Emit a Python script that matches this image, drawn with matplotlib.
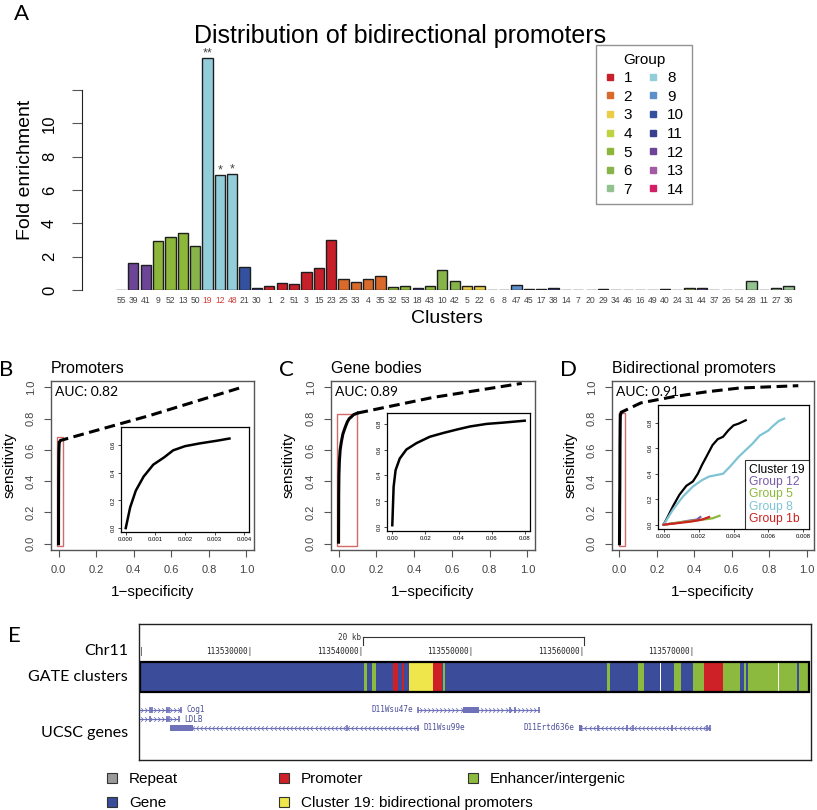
import matplotlib
matplotlib.use('Agg')
import matplotlib.pyplot as plt
import matplotlib.transforms as mtransforms
from matplotlib.patches import Rectangle, Patch
from matplotlib.lines import Line2D
from matplotlib.path import Path

plt.rcParams['font.family'] = ['Liberation Sans', 'DejaVu Sans']

# ---------------- data ----------------
# panel A
clusters = ['55', '39', '41', '9', '52', '13', '50', '19', '12', '48', '21', '30', '1', '2', '51',
            '3', '15', '23', '25', '33', '4', '35', '32', '53', '18', '43', '10', '42', '5', '22',
            '6', '8', '47', '45', '17', '38', '14', '7', '20', '29', '34', '46', '16', '49', '40',
            '24', '31', '44', '37', '26', '54', '28', '11', '27', '36']
fold = [0.02, 1.6, 1.48, 2.96, 3.2, 3.44, 2.64, 13.9, 6.88, 6.94, 1.4, 0.12, 0.22, 0.42, 0.36,
        1.08, 1.32, 3.0, 0.64, 0.46, 0.68, 0.82, 0.18, 0.24, 0.12, 0.26, 1.18, 0.56, 0.26, 0.26,
        0.0, 0.0, 0.3, 0.06, 0.08, 0.1, 0.0, 0.0, 0.0, 0.06, 0.0, 0.0, 0.0, 0.0, 0.06,
        0.0, 0.1, 0.14, 0.0, 0.0, 0.0, 0.52, 0.0, 0.12, 0.24]
bar_group = [12, 12, 12, 5, 5, 5, 6, 8, 8, 8, 10, 11, 1, 1, 1,
             1, 1, 1, 2, 2, 2, 2, 5, 5, 11, 5, 6, 6, 3, 3,
             3, 9, 9, 11, 11, 11, 11, 11, 11, 11, 12, 12, 12, 12, 11,
             11, 6, 12, 13, 13, 14, 7, 7, 7, 7]
stars = {'19': '**', '12': '*', '48': '*'}
group_names = [str(i) for i in range(1, 15)]
group_colors = ['#C8202A', '#D96A2B', '#EACD45', '#BFD23F', '#8CB73A', '#86B448', '#93C28F',
                '#92CDDA', '#5E8FCB', '#34519F', '#3A3E8E', '#6D4598', '#A55BA4', '#D21F66']

# panels B-D : ROC curves (inset = zoomed solid part, dash = remainder)
b_fpr = [0, 0.00015, 0.00034, 0.0006, 0.00093, 0.0013, 0.0016, 0.002, 0.0025, 0.0031, 0.0035]
b_tpr = [0, 0.15, 0.27, 0.37, 0.457, 0.51, 0.56, 0.59, 0.61, 0.63, 0.645]
b_dash_fpr = [0.0035, 0.01, 0.487, 0.965]
b_dash_tpr = [0.645, 0.66, 0.82, 0.996]

c_fpr = [0, 0.0008, 0.002, 0.0045, 0.0085, 0.0146, 0.0227, 0.031, 0.039, 0.047, 0.057, 0.067, 0.08, 0.1]
c_tpr = [0.01, 0.31, 0.44, 0.53, 0.6, 0.65, 0.70, 0.73, 0.756, 0.78, 0.80, 0.81, 0.825, 0.835]
c_dash_fpr = [0.1, 0.12, 0.5, 0.97]
c_dash_tpr = [0.835, 0.84, 0.935, 1.025]

d19_fpr = [0, 0.00025, 0.00053, 0.0009, 0.0013, 0.00168, 0.00196, 0.0022, 0.0025, 0.0028,
           0.0031, 0.0034, 0.0037, 0.004, 0.0043, 0.0047]
d19_tpr = [0, 0.065, 0.143, 0.234, 0.305, 0.34, 0.40, 0.47, 0.547, 0.625,
           0.672, 0.69, 0.74, 0.78, 0.794, 0.82]
d8_fpr = [0, 0.00053, 0.0011, 0.00168, 0.0022, 0.0026, 0.0034, 0.0038, 0.0043, 0.0051,
          0.0055, 0.006, 0.0062, 0.0066, 0.0069]
d8_tpr = [0, 0.117, 0.22, 0.30, 0.35, 0.378, 0.40, 0.456, 0.534, 0.638,
          0.70, 0.74, 0.768, 0.815, 0.833]
d12_fpr = [0, 0.0008, 0.0014, 0.0019, 0.0021]
d12_tpr = [0, 0.015, 0.03, 0.04, 0.06]
d5_fpr = [0, 0.001, 0.002, 0.0028, 0.0032]
d5_tpr = [0, 0.02, 0.035, 0.05, 0.07]
d1b_fpr = [0, 0.0008, 0.0016, 0.0022, 0.0026]
d1b_tpr = [0, 0.012, 0.025, 0.04, 0.06]
d_dash_fpr = [0.0047, 0.009, 0.114, 0.29, 0.46, 0.64, 0.956]
d_dash_tpr = [0.82, 0.84, 0.90, 0.94, 0.97, 0.995, 1.01]
d_labels = ['Cluster 19', 'Group 12', 'Group 5', 'Group 8', 'Group 1b']
d_colors = ['black', '#7B5BA8', '#8DB83A', '#7FC4D4', '#CC2222']

# panel E : genome browser view
chr_ticks = [113520000, 113530000, 113540000, 113550000, 113560000, 113570000]
gate_bounds = [113519850, 113540130, 113540340, 113540800, 113541190, 113542750, 113543200,
               113543510, 113543720, 113544200, 113546340, 113547130, 113547220, 113547400,
               113562050, 113562340, 113564900, 113565360, 113566870, 113566960, 113568160,
               113568740, 113569790, 113570840, 113572530, 113574040, 113574400, 113574580,
               113574760, 113577560, 113577650, 113579230, 113579430, 113580310]
gate_kind = ['gene', 'enh', 'gene', 'enh', 'gene', 'prom', 'gene', 'prom', 'gene', 'bidir',
             'prom', 'gene', 'enh', 'gene', 'enh', 'gene', 'enh', 'gene', 'gap', 'gene',
             'enh', 'gene', 'enh', 'prom', 'enh', 'gene', 'enh', 'gene', 'enh', 'gap',
             'enh', 'gene', 'enh']
kind_colors = {'gene': '#3A4C9A', 'enh': '#8CBA3F', 'prom': '#CE2127', 'bidir': '#EEE64A',
               'gap': 'white', 'repeat': '#9A9A9A'}

gene_names = ['Cog1', 'LDLB', 'D11Wsu99e', 'D11Wsu47e', 'D11Ertd636e']
gene_row = [0, 1, 2, 0, 2]
gene_start = [113519850, 113519850, 113522560, 113545010, 113559540]
gene_end = [113523590, 113523400, 113545010, 113555930, 113571390]
gene_strand = ['+', '+', '-', '+', '-']
gene_thick = [None, None, (113522560, 113524610), (113549080, 113550530), (113559540, 113559790)]
gene_exons = [[113520760, 113520910, 113522260, 113522500, 113523590],
              [113520760, 113522260, 113522420, 113523400],
              [113538540, 113545010],
              [113545010, 113553260, 113553720, 113555930],
              [113561230, 113563860, 113564450, 113567920, 113571090, 113571390]]
gene_label_side = ['right', 'right', 'right', 'left', 'left']

legend_e_labels = ['Repeat', 'Gene', 'Promoter', 'Cluster 19: bidirectional promoters',
                   'Enhancer/intergenic']
legend_e_kinds = ['repeat', 'gene', 'prom', 'bidir', 'enh']

# ---------------- figure ----------------
W, H = 817, 810
fig = plt.figure(figsize=(W / 100, H / 100), dpi=100)


def box(x0, y0, x1, y1):
    return fig.add_axes([x0 / W, 1 - y1 / H, (x1 - x0) / W, (y1 - y0) / H])


def letter(x, y, s):
    fig.text(x / W, 1 - y / H, s, fontsize=16, family=['Lato', 'DejaVu Sans'],
             ha='center', va='center')


# ---- panel A ----
axA = box(82, 40, 812, 290)
xs = list(range(len(clusters)))
cols = [group_colors[g - 1] for g in bar_group]
axA.bar(xs, fold, width=0.83, color=cols, edgecolor='#1e1e1e', linewidth=1.0)
for i, c in enumerate(clusters):
    if c in stars:
        axA.text(i, fold[i] + 0.3, stars[c], ha='center', va='center', fontsize=9, color='#444')
axA.set_xlim(-3.15, 55.9)
axA.set_ylim(0, 15)
for s in ['top', 'right', 'bottom']:
    axA.spines[s].set_visible(False)
axA.spines['left'].set_bounds(0, 12)
axA.spines['left'].set_color('#222')
axA.set_yticks([0, 2, 4, 6, 8, 10, 12])
axA.set_yticklabels(['0', '2', '4', '6', '8', '10', ''], rotation=90, va='center', fontsize=12)
axA.tick_params(axis='y', length=7, color='#555', pad=11)
axA.set_xticks(xs)
axA.set_xticklabels(clusters, fontsize=6.2, color='#444')
axA.tick_params(axis='x', length=0, pad=4)
for lab in axA.get_xticklabels():
    if lab.get_text() in stars:
        lab.set_color('#D0403A')
axA.set_xlabel('Clusters', fontsize=14, labelpad=4)
axA.set_ylabel('Fold enrichment', fontsize=14)
axA.yaxis.set_label_coords(-0.066, 0.48)
fig.text(0.49, 1 - 36 / H, 'Distribution of bidirectional promoters', fontsize=18,
         ha='center', va='center')
letter(22, 14, 'A')

handles = [Line2D([], [], marker='s', ls='none', markersize=5, color=c) for c in group_colors]
legA = axA.legend(handles, group_names, ncol=2, title='Group', fontsize=11, title_fontsize=11,
                  loc='upper left', bbox_to_anchor=(596 / W, 1 - 45 / H),
                  bbox_transform=fig.transFigure, fancybox=False, edgecolor='#777',
                  labelspacing=0.3, handlelength=0.8, handletextpad=0.5, columnspacing=1.0,
                  borderpad=0.5, borderaxespad=0)
legA.get_frame().set_linewidth(1.0)


# ---- panels B-D ----
def roc_panel(x0, x1, title, tag, auc, fpr, tpr, dfpr, dtpr, rect, inset, ilim, iticks):
    ax = box(x0, 381, x1, 550)
    ax.plot(fpr, tpr, color='black', lw=2.2)
    ax.plot(dfpr, dtpr, color='black', lw=2.2, ls=(0, (3.5, 1.8)))
    ax.add_patch(Rectangle((rect[0], rect[1]), rect[2] - rect[0], rect[3] - rect[1],
                           fill=False, ec='#D46A6A', lw=1.0))
    ax.set_xlim(-0.04, 1.04)
    ax.set_ylim(-0.04, 1.04)
    ticks = [0, 0.2, 0.4, 0.6, 0.8, 1.0]
    ax.set_xticks(ticks)
    ax.set_xticklabels(['%.1f' % t for t in ticks])
    ax.set_yticks(ticks)
    ax.set_yticklabels(['%.1f' % t for t in ticks], rotation=90, va='center')
    ax.tick_params(labelsize=8, labelcolor='#444', length=5, width=0.8, color='#555', pad=6)
    for s in ax.spines.values():
        s.set_color('#555')
        s.set_linewidth(1.0)
    ax.set_xlabel('1\u2212specificity', fontsize=11)
    ax.set_ylabel('sensitivity', fontsize=11)
    ax.xaxis.set_label_coords(0.5, -0.21)
    ax.yaxis.set_label_coords(-0.172, 0.5)
    ax.text(0.02, 0.935, 'AUC: ' + auc, transform=ax.transAxes, va='center', fontsize=10,
            family=['Lato', 'DejaVu Sans'])
    fig.text(x0 / W, 1 - 369 / H, title, fontsize=11.5, ha='left', va='center')
    letter(tag[1], 370, tag[0])
    ia = box(*inset)
    ia.set_xlim(*ilim[0])
    ia.set_ylim(*ilim[1])
    ia.set_xticks(iticks[0])
    ia.set_xticklabels(iticks[2])
    ia.set_yticks(iticks[1])
    ia.set_yticklabels(['%.1f' % t for t in iticks[1]], rotation=90, va='center')
    ia.tick_params(labelsize=4.3, length=2, width=0.5, pad=1.5)
    for s in ia.spines.values():
        s.set_linewidth(0.9)
    return ax, ia


axB, inB = roc_panel(51, 254, 'Promoters', ('B', 6), '0.82', b_fpr, b_tpr,
                     b_dash_fpr, b_dash_tpr, (-0.007, -0.017, 0.025, 0.68),
                     (121, 427, 249, 532), ((-0.00016, 0.00416), (-0.028, 0.728)),
                     ([0, 0.001, 0.002, 0.003, 0.004], [0, 0.2, 0.4, 0.6],
                      ['0.000', '0.001', '0.002', '0.003', '0.004']))
inB.plot(b_fpr, b_tpr, color='black', lw=1.8)

axC, inC = roc_panel(331, 535, 'Gene bodies', ('C', 286), '0.89', c_fpr, c_tpr,
                     c_dash_fpr, c_dash_tpr, (-0.009, -0.017, 0.1, 0.83),
                     (387, 413, 530, 531), ((-0.0032, 0.0832), (-0.035, 0.885)),
                     ([0, 0.02, 0.04, 0.06, 0.08], [0, 0.2, 0.4, 0.6, 0.8],
                      ['0.00', '0.02', '0.04', '0.06', '0.08']))
inC.plot(c_fpr[:-1], c_tpr[:-1], color='black', lw=1.8)

axD, inD = roc_panel(612, 814, 'Bidirectional promoters', ('D', 568), '0.91', d19_fpr, d19_tpr,
                     d_dash_fpr, d_dash_tpr, (-0.0035, -0.017, 0.03, 0.834),
                     (658, 405, 809, 529), ((-0.00032, 0.00832), (-0.034, 0.94)),
                     ([0, 0.002, 0.004, 0.006, 0.008], [0, 0.2, 0.4, 0.6, 0.8],
                      ['0.000', '0.002', '0.004', '0.006', '0.008']))
d_series = [(d19_fpr, d19_tpr), (d12_fpr, d12_tpr), (d5_fpr, d5_tpr), (d8_fpr, d8_tpr),
            (d1b_fpr, d1b_tpr)]
for (fx, fy), c in zip(d_series, d_colors):
    inD.plot(fx, fy, color=c, lw=1.6)
legD = inD.legend([Line2D([], [], ls='none') for _ in d_labels], d_labels, loc='lower right',
                  borderaxespad=0, fontsize=8.7, handlelength=0, handletextpad=0,
                  labelspacing=0.02, fancybox=False, edgecolor='black', borderpad=0.35)
legD.get_frame().set_linewidth(0.8)
for t, c in zip(legD.get_texts(), d_colors):
    t.set_color(c)

# ---- panel E ----
axE = box(139, 624, 811, 760)
axE.set_xlim(113519750, 113580500)
axE.set_ylim(760, 624)
axE.set_xticks([])
axE.set_yticks([])
for s in axE.spines.values():
    s.set_linewidth(1.0)
    s.set_color('#222')
mono = ['DejaVu Sans Mono']
# scale bar
axE.plot([113540000, 113560000], [637, 637], color='#333', lw=0.8)
axE.plot([113540000, 113540000], [637, 645], color='#333', lw=0.8)
axE.plot([113560000, 113560000], [637, 645], color='#333', lw=0.8)
axE.text(113539800, 637, '20 kb', ha='right', va='center', fontsize=5.5, family=mono, color='#333')
for i, t in enumerate(chr_ticks):
    lab = '|' if i == 0 else '%d|' % t
    axE.text(t, 651, lab, ha='right' if i else 'center', va='center', fontsize=5.5,
             family=mono, color='#222')
# GATE cluster bar
segs = [(gate_bounds[i], gate_bounds[i + 1] - gate_bounds[i]) for i in range(len(gate_kind))]
axE.broken_barh(segs, (662, 30), facecolors=[kind_colors[k] for k in gate_kind])
axE.add_patch(Rectangle((gate_bounds[0], 662), gate_bounds[-1] - gate_bounds[0], 30,
                        fill=False, ec='black', lw=1.6))
# genes
gcol = '#6E72B8'
row_y = [710, 719, 728]
chev_r = Path([(-0.6, 1), (0.4, 0), (-0.6, -1)], [Path.MOVETO, Path.LINETO, Path.LINETO])
chev_l = Path([(0.6, 1), (-0.4, 0), (0.6, -1)], [Path.MOVETO, Path.LINETO, Path.LINETO])
for name, r, g0, g1, st, thick, exons, side in zip(gene_names, gene_row, gene_start, gene_end,
                                                   gene_strand, gene_thick, gene_exons,
                                                   gene_label_side):
    y = row_y[r]
    axE.plot([g0, g1], [y, y], color=gcol, lw=0.8)
    step = 370
    cx = list(range(g0 + 200, g1 - 100, step))
    axE.plot(cx, [y] * len(cx), ls='none', marker=chev_r if st == '+' else chev_l,
             markersize=3.2, markerfacecolor='none', markeredgecolor=gcol, markeredgewidth=0.6)
    axE.plot(exons, [y] * len(exons), ls='none', marker='|', markersize=5, color=gcol,
             markeredgewidth=1.2)
    if thick is not None:
        axE.add_patch(Rectangle((thick[0], y - 3), thick[1] - thick[0], 6, color=gcol, lw=0))
    if side == 'right':
        axE.text(g1 + 450, y, name, ha='left', va='center', fontsize=5.5, family=mono,
                 color='#4B4F99')
    else:
        axE.text(g0 - 450, y, name, ha='right', va='center', fontsize=5.5, family=mono,
                 color='#4B4F99')

trE = mtransforms.blended_transform_factory(axE.transAxes, axE.transData)
for y, s in [(651, 'Chr11'), (677, 'GATE clusters'), (733, 'UCSC genes')]:
    axE.text(-0.0164, y, s, transform=trE, ha='right', va='center', fontsize=11.5,
             family=['Lato', 'DejaVu Sans'])
letter(14, 636, 'E')

# bottom legend
cols_e = [(0, 2, 107), (2, 4, 279), (4, 5, 468)]
for a, b, x in cols_e:
    hs = [Patch(facecolor=kind_colors[k], edgecolor='#333', lw=0.8) for k in legend_e_kinds[a:b]]
    fig.legend(hs, legend_e_labels[a:b], loc='upper left', bbox_to_anchor=(x / W, 1 - 772 / H),
               frameon=False, fontsize=11, handlelength=0.65, handleheight=0.65,
               handletextpad=0.8, labelspacing=0.68, borderpad=0, borderaxespad=0)

fig.savefig('out.png', dpi=100)
